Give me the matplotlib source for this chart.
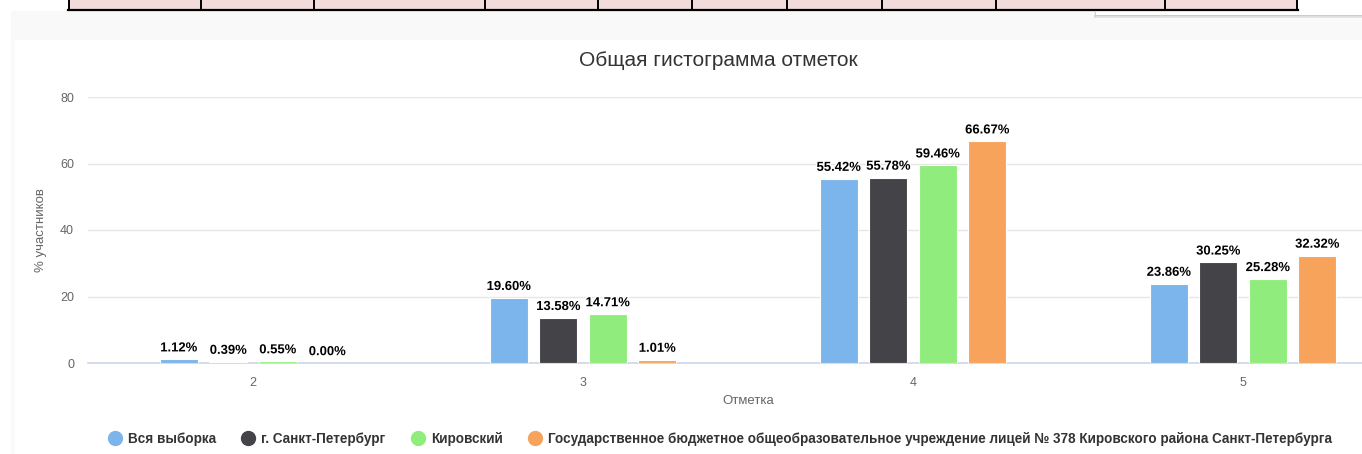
import matplotlib
matplotlib.use("Agg")
import matplotlib.pyplot as plt
from matplotlib.patches import Rectangle
from matplotlib.lines import Line2D
import matplotlib.patheffects as pe
import numpy as np

categories = ["2", "3", "4", "5"]
series_names = [
    "Вся выборка",
    "г. Санкт-Петербург",
    "Кировский",
    "Государственное бюджетное общеобразовательное учреждение лицей № 378 Кировского района Санкт-Петербурга",
]
vsya = [1.12, 19.60, 55.42, 23.86]
spb = [0.39, 13.58, 55.78, 30.25]
kirov = [0.55, 14.71, 59.46, 25.28]
licey = [0.00, 1.01, 66.67, 32.32]
values = [vsya, spb, kirov, licey]
colors = ["#7cb5ec", "#434348", "#90ed7d", "#f7a35c"]
yticks = [0, 20, 40, 60, 80]
title = "Общая гистограмма отметок"
xlabel = "Отметка"
ylabel = "% участников"
table_edges = [69, 201, 314, 485, 598, 692, 787, 882, 996, 1165, 1297]

FONT = ["Liberation Sans", "DejaVu Sans"]
plt.rcParams["font.family"] = FONT

W, H = 1362, 454
fig = plt.figure(figsize=(W / 100, H / 100), dpi=100)
fig.patch.set_facecolor("white")


def rect(x0, y0, x1, y1, **kw):
    fig.add_artist(Rectangle((x0 / W, 1 - y1 / H), (x1 - x0) / W, (y1 - y0) / H,
                             transform=fig.transFigure, **kw))


def hline(x0, x1, y, **kw):
    fig.add_artist(Line2D([x0 / W, x1 / W], [1 - y / H, 1 - y / H],
                          transform=fig.transFigure, **kw))


def vline(x, y0, y1, **kw):
    fig.add_artist(Line2D([x / W, x / W], [1 - y0 / H, 1 - y1 / H],
                          transform=fig.transFigure, **kw))


# background panels
rect(11, 11, W, H, facecolor="#f9f9f9", edgecolor="none", zorder=0)
rect(15, 40, W, H, facecolor="white", edgecolor="none", zorder=0)
# table remnant at top
rect(table_edges[0], 0, table_edges[-1], 9.5, facecolor="#f2dcdb", edgecolor="none", zorder=1)
hline(table_edges[0] - 1, table_edges[-1] + 1, 9.5, color="black", lw=1.6, zorder=2)
for xe in table_edges:
    vline(xe, 0, 10, color="black", lw=1.4, zorder=2)
# popup box edge on the right
rect(1095, 10.5, W, 15, facecolor="white", edgecolor="none", zorder=1)
hline(1095, W, 15.5, color="#c4c4c4", lw=1.2, zorder=2)
hline(1095, W, 17, color="#e2e2e2", lw=1.2, zorder=2)
vline(1095, 10.5, 15.5, color="#d0d0d0", lw=0.8, zorder=2)

# axes: plot area extends beyond right edge
left_px, right_px = 88, 1408
top_px, bot_px = 97, 363
ax = fig.add_axes([left_px / W, 1 - bot_px / H, (right_px - left_px) / W, (bot_px - top_px) / H])
ax.set_facecolor("none")
ax.set_zorder(3)

x = np.arange(len(categories))
pitch = 0.15
bw = 0.116
for i, (name, vals, c) in enumerate(zip(series_names, values, colors)):
    pos = x + (i - 1.5) * pitch
    ax.bar(pos, vals, width=bw, color=c, edgecolor="white", linewidth=0.8, label=name, zorder=3)
    for p, v in zip(pos, vals):
        ax.annotate(f"{v:.2f}%", (p, v), xytext=(0, 3.5), textcoords="offset points",
                    ha="center", va="bottom", fontsize=9.4, fontweight="bold", color="black",
                    path_effects=[pe.withStroke(linewidth=2.0, foreground="white")], zorder=5)

ax.set_xlim(-0.5, len(categories) - 0.5)
ax.set_ylim(0, 80)
ax.set_yticks(yticks)
ax.set_yticklabels([str(t) for t in yticks])
ax.set_xticks(x)
ax.set_xticklabels(categories)
ax.grid(axis="y", color="#e6e6e6", lw=1, zorder=0)
ax.set_axisbelow(True)
for s in ["top", "right", "left"]:
    ax.spines[s].set_visible(False)
ax.spines["bottom"].set_color("#ccd6eb")
ax.spines["bottom"].set_linewidth(1.2)
ax.tick_params(axis="both", length=0, colors="#666666", labelsize=9)
ax.tick_params(axis="y", pad=10)
ax.tick_params(axis="x", pad=10)

# axis titles
fig.text(748 / W, 1 - 401 / H, xlabel, ha="center", va="center", fontsize=9.5, color="#666666")
fig.text(41 / W, 1 - 230 / H, ylabel, ha="center", va="center", rotation=90, fontsize=9.5, color="#666666")
fig.text(718 / W, 1 - 60 / H, title, ha="center", va="center", fontsize=15, color="#333333")

# legend
handles = [Line2D([], [], marker="o", ls="none", markersize=10, markerfacecolor=c, markeredgecolor=c)
           for c in colors]
leg = fig.legend(handles, series_names, loc="center", bbox_to_anchor=(720 / W, 1 - 439 / H),
                 ncol=4, frameon=False, handletextpad=0.45, columnspacing=1.9, handlelength=1.0,
                 borderaxespad=0, borderpad=0, prop={"weight": "bold", "size": 9.75})
for t in leg.get_texts():
    t.set_color("#333333")

fig.savefig("out.png", dpi=100, facecolor="white")
